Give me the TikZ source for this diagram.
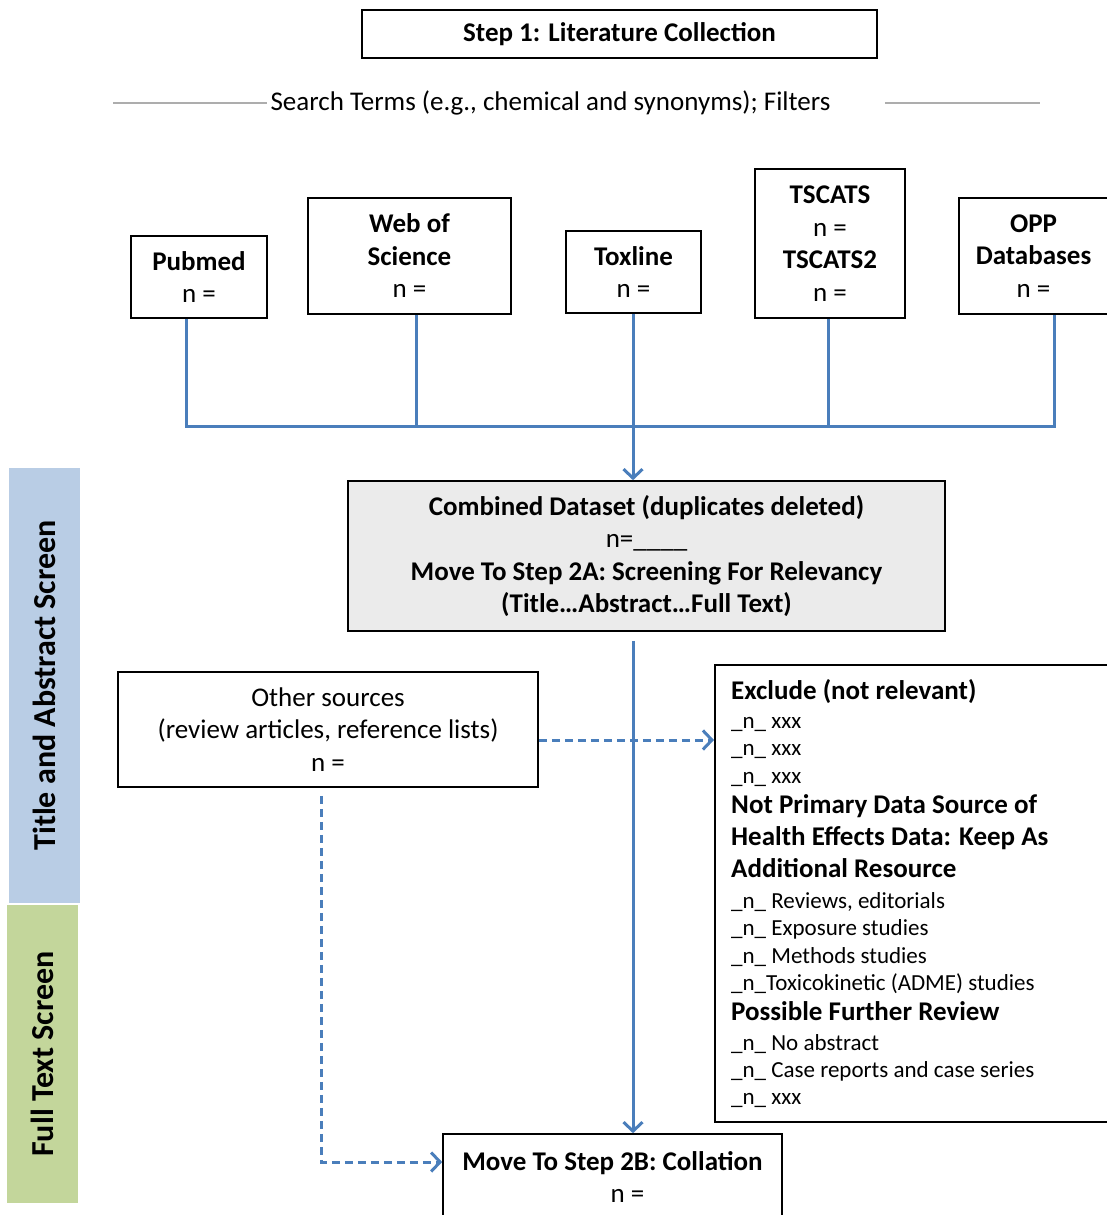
\documentclass[tikz,border=0pt]{standalone}
\usepackage{fontspec}
\setmainfont{Carlito}
\usetikzlibrary{arrows.meta}
\definecolor{linkblue}{HTML}{4A7EBB}
\definecolor{rulegray}{HTML}{ADADAD}
\definecolor{lanea}{HTML}{B9CDE5}
\definecolor{laneb}{HTML}{C3D69B}
\definecolor{boxgray}{HTML}{EBEBEB}
\newcommand\exhead[1]{{\fontsize{27}{32}\selectfont\bfseries #1}}
\begin{document}
\begin{tikzpicture}[x=1pt,y=-1pt,
    every node/.style={font=\fontsize{27}{32.5}\selectfont},
    box/.style={draw=black, line width=1.6pt, align=center, inner sep=0pt},
    link/.style={draw=linkblue, line width=3pt},
    dashlink/.style={link, dash pattern=on 8pt off 5pt},
    tip/.style={-{Straight Barb[length=9pt,width=19pt,line width=3pt]}},
    lane/.style={inner sep=0pt, rotate=90, font=\fontsize{32}{36}\selectfont\bfseries}]
  \useasboundingbox (0,0) rectangle (1107,1215);

  % step 1 and search terms
  \node[box, minimum width=515pt, minimum height=48pt] (step) at (619.5,34) {\textbf{Step 1: Literature Collection}};
  \node (terms) at (550.5,103) {Search Terms (e.g., chemical and synonyms); Filters};
  \coordinate (ruleL) at (113,103);
  \coordinate (ruleR) at (1040,103);
  \draw[rulegray, line width=2.5pt] (ruleL) -- (terms.west);
  \draw[rulegray, line width=2.5pt] ([xshift=51pt]terms.east) -- (ruleR);

  % databases
  \node[box, minimum width=136pt, minimum height=82pt] (pubmed) at (199,277) {\textbf{Pubmed}\\n =};
  \node[box, minimum width=203pt, minimum height=116pt] (web) at (409.5,256) {\textbf{Web of}\\\textbf{Science}\\n =};
  \node[box, minimum width=135pt, minimum height=82pt] (toxline) at (633.5,272) {\textbf{Toxline}\\n =};
  \node[box, minimum width=150pt, minimum height=149pt] (tscats) at (830,243.5) {\textbf{TSCATS}\\n =\\\textbf{TSCATS2}\\n =};
  \node[box, minimum width=149pt, minimum height=116pt] (opp) at (1033.5,256) {\textbf{OPP}\\\textbf{Databases}\\n =};

  \coordinate (bus) at (186,426);
  \foreach \n/\dx in {pubmed/-13, web/6.5, toxline/-0.5, tscats/-2, opp/20.5} {
    \path (\n.south) ++(\dx,0) coordinate (\n-drop);
  }
  \draw[link] (pubmed-drop) -- (pubmed-drop |- bus) -- (opp-drop |- bus) -- (opp-drop);
  \foreach \n in {web, toxline, tscats}
    \draw[link] (\n-drop) -- (\n-drop |- bus);

  % screening
  \node[box, fill=boxgray, minimum width=597pt, minimum height=150pt] (combined) at (646.5,556)
    {\textbf{Combined Dataset (duplicates deleted)}\\n=\_\_\_\_\\\textbf{Move To Step 2A: Screening For Relevancy}\\\textbf{(Title\dots Abstract\dots Full Text)}};
  \draw[link, tip] (toxline-drop |- bus) -- (toxline-drop |- combined.north);

  \node[box, minimum width=420pt, minimum height=115pt] (other) at (328,729.5)
    {Other sources\\(review articles, reference lists)\\n =};
  \node[box, anchor=north west, minimum width=400pt, minimum height=457pt] (exclude) at (714,664) {};
  \foreach \y/\t in {691/{\exhead{Exclude (not relevant)}}, 720/{\_n\_ xxx}, 747/{\_n\_ xxx}, 775/{\_n\_ xxx},
      805/{\exhead{Not Primary Data Source of}}, 837/{\exhead{Health Effects Data: Keep As}}, 869/{\exhead{Additional Resource}},
      900/{\_n\_ Reviews, editorials}, 927/{\_n\_ Exposure studies}, 955/{\_n\_ Methods studies},
      982/{\_n\_Toxicokinetic (ADME) studies}, 1012/{\exhead{Possible Further Review}},
      1042/{\_n\_ No abstract}, 1069/{\_n\_ Case reports and case series}, 1096/{\_n\_ xxx}}
    \node[anchor=base west, inner sep=0pt, font=\fontsize{23}{27}\selectfont] (ex\y) at (731,\y+8) {\t};

  \node[box, minimum width=339pt, minimum height=86pt] (collate) at (612.5,1177)
    {\textbf{Move To Step 2B: Collation}\\\hspace*{30pt}n =};

  \path (toxline-drop |- combined.south) ++(0,9) coordinate (midtop);
  \draw[link, tip] (midtop) -- (midtop |- collate.north);
  \path (other.east) ++(0,10.5) coordinate (otherout);
  \draw[dashlink, tip] (otherout) -- (otherout -| exclude.west);
  \path (other.south) ++(-7,8) coordinate (otherdown);
  \draw[dashlink, tip] (otherdown) |- ([yshift=15pt]collate.west);

  % screening lanes
  \node[lane, fill=lanea, minimum width=435pt, minimum height=71pt] (titlelane) at (44.5,685.5) {Title and Abstract Screen};
  \node[lane, fill=laneb, minimum width=298pt, minimum height=71pt] (fulllane) at (42.5,1054) {Full Text Screen};
\end{tikzpicture}
\end{document}
